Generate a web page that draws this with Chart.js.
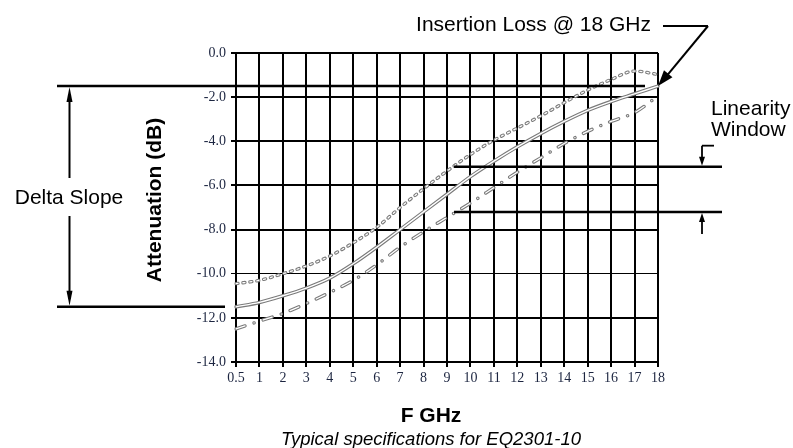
<!DOCTYPE html>
<html><head><meta charset="utf-8">
<script src="https://cdn.jsdelivr.net/npm/chart.js@4.4.0/dist/chart.umd.min.js"></script>
<style>html,body{margin:0;padding:0;background:#fff;}#wrap{position:relative;width:793px;height:448px;}</style>
</head><body><div id="wrap"><canvas id="c" width="793" height="448"></canvas></div>
<script>
// ---- data ----
const freqLabels = ['0.5','1','2','3','4','5','6','7','8','9','10','11','12','13','14','15','16','17','18'];
const upperCurve   = [-10.45,-10.3,-10.0,-9.65,-9.2,-8.6,-7.9,-7.0,-6.15,-5.35,-4.6,-3.95,-3.4,-2.85,-2.25,-1.68,-1.2,-0.82,-0.97];
const typicalCurve = [-11.5,-11.3,-11.0,-10.65,-10.2,-9.55,-8.8,-8.0,-7.2,-6.4,-5.6,-4.9,-4.25,-3.65,-3.1,-2.6,-2.2,-1.85,-1.5];
const lowerCurve   = [-12.5,-12.15,-11.8,-11.35,-10.85,-10.3,-9.6,-8.8,-8.1,-7.45,-6.8,-6.1,-5.4,-4.75,-4.1,-3.55,-3.1,-2.7,-1.95];
const yMin = -14, yMax = 0, yStep = 2;
const deltaTop = -1.5, deltaBottom = -11.5;       // Delta Slope limits (dB)
const windowTop = -5.15, windowBottom = -7.2;     // Linearity Window limits (dB)
const windowStartFreq = 9.3;                      // GHz where window lines begin

const SANS = '"Liberation Sans", Arial, sans-serif';
const SERIF = '"Liberation Serif", "Times New Roman", serif';
const OUT = '#7a7a7a';

function pair(data, outerW, innerW, dash) {
  const common = {data, pointRadius:0, fill:false, cubicInterpolationMode:'monotone', borderCapStyle:'round', borderDash:dash};
  return [
    Object.assign({}, common, {borderColor:'#ffffff', borderWidth:innerW}),
    Object.assign({}, common, {borderColor:OUT, borderWidth:outerW})
  ];
}
const dotted = pair(upperCurve, 3.4, 1.3, [2, 5]);
const solid = pair(typicalCurve, 3.6, 1.4, []);
const dashdot = pair(lowerCurve, 3.4, 1.3, [9.5, 9.5, 0.1, 9.5]);

function line(ctx,x1,y1,x2,y2){ctx.beginPath();ctx.moveTo(x1,y1);ctx.lineTo(x2,y2);ctx.stroke();}
function head(ctx,tx,ty,fx,fy,len,hw){
  const a=Math.atan2(ty-fy,tx-fx);
  const bx=tx-len*Math.cos(a), by=ty-len*Math.sin(a);
  ctx.beginPath();ctx.moveTo(tx,ty);
  ctx.lineTo(bx+hw*Math.sin(a), by-hw*Math.cos(a));
  ctx.lineTo(bx-hw*Math.sin(a), by+hw*Math.cos(a));
  ctx.closePath();ctx.fill();
}
function freqPixel(xs, f){
  const nums = freqLabels.map(Number);
  for(let i=0;i<nums.length-1;i++){
    if(f>=nums[i] && f<=nums[i+1]){
      const p0=xs.getPixelForValue(i), p1=xs.getPixelForValue(i+1);
      return p0+(p1-p0)*(f-nums[i])/(nums[i+1]-nums[i]);
    }
  }
  return xs.getPixelForValue(0);
}

const annot = {
  id:'annot',
  afterDraw(chart){
    const {ctx, scales:{x,y}, chartArea:ca} = chart;
    ctx.save();
    ctx.strokeStyle='#000';ctx.fillStyle='#000';
    const yT=y.getPixelForValue(deltaTop), yB=y.getPixelForValue(deltaBottom);
    ctx.lineWidth=2.5;
    line(ctx,57,yT,645,yT);
    line(ctx,57,yB,225,yB);
    // delta slope vertical arrow
    ctx.lineWidth=2;
    const ax=69.5;
    line(ctx,ax,yT+8,ax,178);
    line(ctx,ax,216,ax,yB-8);
    head(ctx,ax,yT+1,ax,yT+20,15,3);
    head(ctx,ax,yB-1,ax,yB-20,15,3);
    // insertion loss arrow
    const tipX=x.getPixelForValue(freqLabels.length-1);
    line(ctx,663,26,708,26);
    line(ctx,708,26,tipX+6,yT-7);
    head(ctx,tipX,yT,708,26,16,5.5);
    // linearity window
    const wT=y.getPixelForValue(windowTop), wB=y.getPixelForValue(windowBottom);
    const wx=freqPixel(x, windowStartFreq);
    ctx.lineWidth=2.5;
    line(ctx,wx,wT,722,wT);
    line(ctx,wx,wB,722,wB);
    ctx.lineWidth=1.8;
    line(ctx,702,wT-21,714,wT-21);
    line(ctx,702,wT-21,702,wT-6);
    head(ctx,702,wT-1,702,wT-21,9,3);
    line(ctx,702,wB+22,702,wB+6);
    head(ctx,702,wB+1,702,wB+22,9,3);
    // texts
    ctx.textBaseline='alphabetic';
    ctx.font='21px '+SANS;
    ctx.textAlign='right';
    ctx.fillText('Insertion Loss @ 18 GHz',651,31);
    ctx.textAlign='left';
    ctx.fillText('Linearity',711,115);
    ctx.fillText('Window',711,136);
    ctx.textAlign='center';ctx.textBaseline='middle';
    ctx.fillText('Delta Slope',69,198);
    ctx.font='bold 21px '+SANS;
    ctx.fillText('F GHz',431,416);
    ctx.save();
    ctx.translate(155,200);ctx.rotate(-Math.PI/2);
    ctx.fillText('Attenuation (dB)',0,0);
    ctx.restore();
    ctx.font='italic 18.5px '+SANS;
    ctx.fillText('Typical specifications for EQ2301-10',431,440);
    ctx.restore();
  }
};

new Chart(document.getElementById('c'), {
  type:'line',
  data:{labels:freqLabels, datasets:[dotted[0],solid[0],dashdot[0],dotted[1],solid[1],dashdot[1]]},
  options:{
    responsive:false, animation:false,
    layout:{padding:{left:142,right:135,top:53,bottom:0}},
    plugins:{legend:{display:false},tooltip:{enabled:false}},
    scales:{
      x:{type:'category', offset:false,
        grid:{color:'#000',lineWidth:2,tickLength:5,drawTicks:true},
        border:{color:'#000',width:2},
        ticks:{autoSkip:false,maxRotation:0,padding:3,color:'#1c2540',font:{family:SERIF,size:14}},
        afterFit(s){s.height=86;}
      },
      y:{min:yMin,max:yMax,
        grid:{color:'#000',lineWidth:(c)=>c.tick&&c.tick.value===-10?1:2,tickLength:5},
        border:{color:'#000',width:2},
        ticks:{stepSize:yStep,padding:5,color:'#1c2540',font:{family:SERIF,size:14},callback:(v)=>Number(v).toFixed(1)},
        afterFit(s){s.width=94;}
      }
    }
  },
  plugins:[annot]
});
</script></body></html>
